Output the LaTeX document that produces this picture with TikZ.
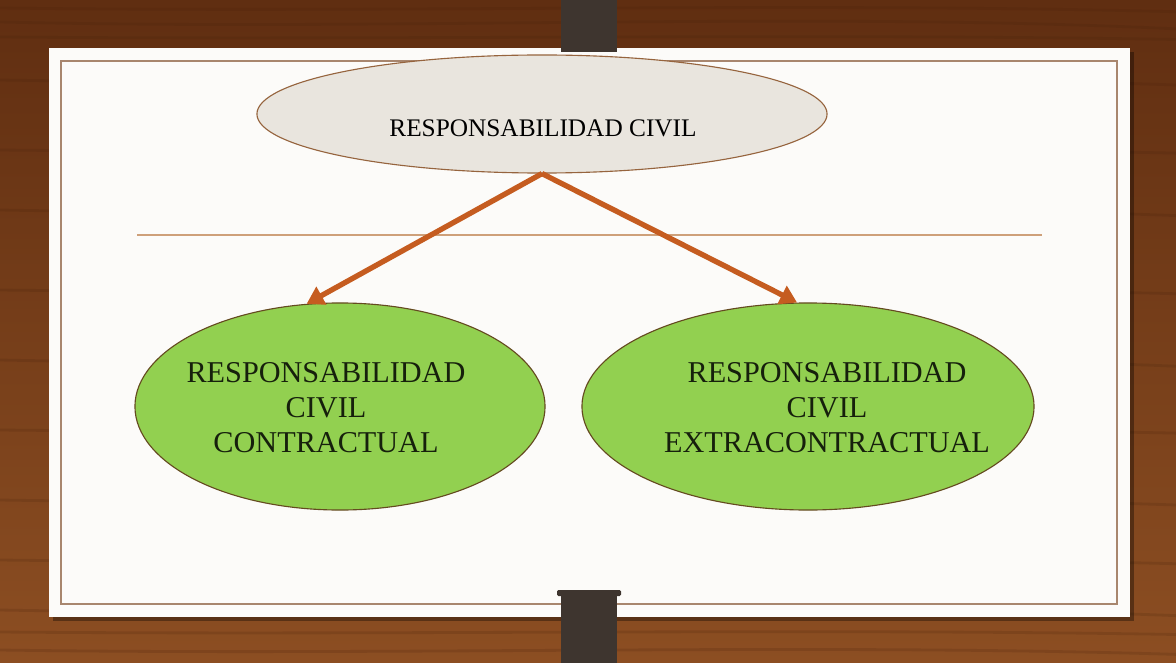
\documentclass[tikz,border=0pt]{standalone}
\usepackage{fontspec}
\setmainfont{Liberation Serif}
\usetikzlibrary{arrows.meta,shapes.geometric,positioning}
\definecolor{woodlight}{RGB}{140,78,34}
\definecolor{wooddark}{RGB}{96,46,17}
\definecolor{woodgrain}{RGB}{70,32,10}
\definecolor{board}{RGB}{252,251,249}
\definecolor{frameline}{RGB}{168,134,110}
\definecolor{clipcol}{RGB}{62,53,47}
\definecolor{rulecol}{RGB}{206,160,122}
\definecolor{rootfill}{RGB}{233,229,222}
\definecolor{rootline}{RGB}{150,100,62}
\definecolor{leaf}{RGB}{146,208,80}
\definecolor{leafline}{RGB}{100,74,32}
\definecolor{arrowcol}{RGB}{197,92,32}
\definecolor{leaftextcol}{RGB}{22,32,12}
\tikzset{
  root/.style    ={ellipse, inner sep=0pt, minimum width=14.25cm, minimum height=2.95cm,
    draw=rootline, line width=.8pt, fill=rootfill},
  roottext/.style={inner sep=0pt, font=\fontsize{18}{21}\selectfont},
  leafnode/.style={ellipse, inner sep=0pt, minimum height=5.175cm,
    draw=leafline, line width=.8pt, fill=leaf},
  leaftext/.style={inner sep=0pt, align=center, text=leaftextcol,
    font=\fontsize{21.5}{24.9}\selectfont},
  link/.style    ={-{Triangle[length=12pt,width=14pt]}, line width=3.8pt, draw=arrowcol}}

\begin{document}
\begin{tikzpicture}[x=0.025cm,y=-0.025cm]
\useasboundingbox (0,0) rectangle (1176,663);
% wood and board
\shade[top color=wooddark, bottom color=woodlight] (0,0) rectangle (1176,663);
\foreach \y/\b in {8/30,22/55,37/20,80/40,150/25,210/45,290/30,360/50,430/25,500/40,560/30,610/45,632/20,650/35}
  \draw[woodgrain, opacity=.18, line width=2pt]
    (0,\y) .. controls (400,\y+\b/6) and (800,\y-\b/5) .. (1176,\y+\b/8);
\fill[black, opacity=.35] (53,52) rectangle (1134,621);
\fill[board] (49,48) rectangle (1130,617);
\draw[frameline, line width=1.4pt] (61,61) rectangle (1117,604);
\fill[clipcol] (561,0) rectangle (617,52);
\fill[clipcol] (561,594) rectangle (617,663);
\fill[clipcol, rounded corners=1pt] (557,590) rectangle (621,596);
\draw[rulecol, line width=1.2pt] (137,235) -- (1042,235);
% nodes
\node[root] (resp) at (542,114) {};
\node[roottext] (resptext) at (543,128) {RESPONSABILIDAD CIVIL};
\node[leafnode, minimum width=10.25cm] (contr) at (340,406.5) {};
\node[leafnode, minimum width=11.3cm]  (extra) at (808,406.5) {};
\node[leaftext] (contrtext) at (326,407.5) {RESPONSABILIDAD\\CIVIL\\CONTRACTUAL};
\node[leaftext] (extratext) at (827,407.5) {RESPONSABILIDAD\\CIVIL\\EXTRACONTRACTUAL};
% arrows
\draw[link] (resp.south) -- (contr.108.7);
\draw[link] (resp.south) -- (extra.96.1);
\end{tikzpicture}
\end{document}
